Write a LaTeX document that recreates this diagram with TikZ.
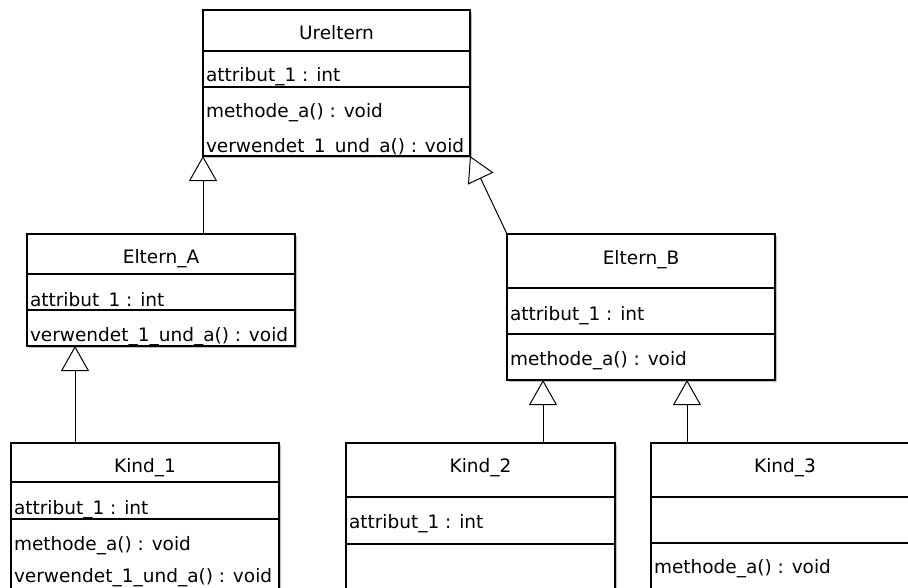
\documentclass[tikz,border=0pt]{standalone}
\usepackage{fontspec}
\setmainfont{DejaVu Sans}
\usetikzlibrary{arrows.meta,shadows}
\begin{document}
\begin{tikzpicture}[x=1pt,y=-1pt,
  cls/.style={draw=black,line width=1.1pt,fill=white,rectangle,anchor=north west,inner sep=0pt,outer sep=0pt,
    drop shadow={shadow xshift=1.5pt,shadow yshift=-1.5pt,fill=black,opacity=0.25}},
  sep/.style={draw=black,line width=1.1pt},
  txt/.style={inner sep=0pt,outer sep=0pt,font=\fontsize{18.5}{22}\selectfont,text=black},
  attr/.style={txt,anchor=base west},
  ttl/.style={txt,anchor=base},
  inherit/.style={draw=black,line width=1pt,-{Triangle[length=25pt,width=28pt,fill=white,line width=1pt]}}
]
\clip (0,0) rectangle (908,587);
\fill[white] (0,0) rectangle (908,587);

% Ureltern
\node[cls,minimum width=267pt,minimum height=146pt] (U) at (203,10) {};
\draw[sep] ([yshift=-41pt]U.north west) -- ([yshift=-41pt]U.north east);
\draw[sep] ([yshift=-77pt]U.north west) -- ([yshift=-77pt]U.north east);
\node[ttl] (Ut) at (U.north |- 0,39) {Ureltern};
\node[attr] (Ua) at ([xshift=3pt]U.north west |- 0,81) {attribut\_1 : int};
\node[attr] (Um1) at ([xshift=3pt]U.north west |- 0,117) {methode\_a() : void};
\node[attr] (Um2) at ([xshift=3pt]U.north west |- 0,152) {verwendet\_1\_und\_a() : void};

% Eltern_A
\node[cls,minimum width=268pt,minimum height=112pt] (EA) at (27,234) {};
\draw[sep] ([yshift=-40pt]EA.north west) -- ([yshift=-40pt]EA.north east);
\draw[sep] ([yshift=-76pt]EA.north west) -- ([yshift=-76pt]EA.north east);
\node[ttl] (EAt) at (EA.north |- 0,263) {Eltern\_A};
\node[attr] (EAa) at ([xshift=3pt]EA.north west |- 0,306) {attribut\_1 : int};
\node[attr] (EAm) at ([xshift=3pt]EA.north west |- 0,341) {verwendet\_1\_und\_a() : void};

% Eltern_B
\node[cls,minimum width=268pt,minimum height=146pt] (EB) at (507,234) {};
\draw[sep] ([yshift=-54pt]EB.north west) -- ([yshift=-54pt]EB.north east);
\draw[sep] ([yshift=-100pt]EB.north west) -- ([yshift=-100pt]EB.north east);
\node[ttl] (EBt) at (EB.north |- 0,264) {Eltern\_B};
\node[attr] (EBa) at ([xshift=3pt]EB.north west |- 0,320) {attribut\_1 : int};
\node[attr] (EBm) at ([xshift=3pt]EB.north west |- 0,365) {methode\_a() : void};

% Kind_1
\node[cls,minimum width=268pt,minimum height=200pt] (K1) at (11,443) {};
\draw[sep] ([yshift=-39pt]K1.north west) -- ([yshift=-39pt]K1.north east);
\draw[sep] ([yshift=-76pt]K1.north west) -- ([yshift=-76pt]K1.north east);
\node[ttl] (K1t) at (K1.north |- 0,472) {Kind\_1};
\node[attr] (K1a) at ([xshift=3pt]K1.north west |- 0,514) {attribut\_1 : int};
\node[attr] (K1m1) at ([xshift=3pt]K1.north west |- 0,550) {methode\_a() : void};
\node[attr] (K1m2) at ([xshift=3pt]K1.north west |- 0,582) {verwendet\_1\_und\_a() : void};

% Kind_2
\node[cls,minimum width=269pt,minimum height=200pt] (K2) at (346,443) {};
\draw[sep] ([yshift=-54pt]K2.north west) -- ([yshift=-54pt]K2.north east);
\draw[sep] ([yshift=-101pt]K2.north west) -- ([yshift=-101pt]K2.north east);
\node[ttl] (K2t) at (K2.north |- 0,472) {Kind\_2};
\node[attr] (K2a) at ([xshift=3pt]K2.north west |- 0,528) {attribut\_1 : int};

% Kind_3
\node[cls,minimum width=268pt,minimum height=200pt] (K3) at (651,443) {};
\draw[sep] ([yshift=-54pt]K3.north west) -- ([yshift=-54pt]K3.north east);
\draw[sep] ([yshift=-100pt]K3.north west) -- ([yshift=-100pt]K3.north east);
\node[ttl] (K3t) at (K3.north |- 0,472) {Kind\_3};
\node[attr] (K3m) at ([xshift=3pt]K3.north west |- 0,573) {methode\_a() : void};

% Generalisations
\draw[inherit] (EA.north -| U.south west) -- (U.south west);
\draw[inherit] (EB.north west) -- (U.south east);
\draw[inherit] ([xshift=64pt]K1.north west) -- ([xshift=48pt]EA.south west);
\draw[inherit] ([xshift=197pt]K2.north west) -- ([xshift=36pt]EB.south west);
\draw[inherit] ([xshift=36pt]K3.north west) -- ([xshift=180pt]EB.south west);
\end{tikzpicture}
\end{document}
